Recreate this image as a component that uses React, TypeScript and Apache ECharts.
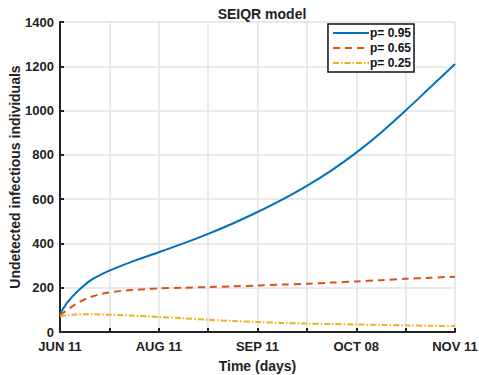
import React, { useEffect, useRef } from "react";
import * as echarts from "echarts";

const days = [0, 1, 2, 3, 5, 7, 9, 11, 13, 16, 20, 25, 30, 35, 40, 50, 60, 70, 80, 90, 100, 110, 120, 130, 140, 150, 160];
const p95 = [80, 100, 118, 134, 160, 183, 203, 222, 238, 256, 277, 300, 321, 341, 360, 400, 443, 490, 542, 598, 660, 730, 810, 900, 1000, 1105, 1210];
const p65 = [75, 84, 92, 100, 116, 130, 142, 152, 160, 170, 179, 186, 190, 194, 197, 200, 203, 206, 210, 214, 218, 223, 228, 234, 240, 245, 250];
const p25 = [70, 72, 74, 76, 78, 79, 80, 80, 80, 79, 78, 76, 73, 71, 68, 62, 55, 50, 45, 41, 38, 36, 34, 32, 30, 28, 27];
const tickLabels: Record<number, string> = { 0: "JUN 11", 40: "AUG 11", 80: "SEP 11", 120: "OCT 08", 160: "NOV 11" };
const seriesNames = ["p= 0.95", "p= 0.65", "p= 0.25"];

const FONT = "Liberation Sans, Arial, sans-serif";

export default function App() {
  const ref = useRef<HTMLDivElement>(null);
  useEffect(() => {
    if (!ref.current) return;
    const chart = echarts.init(ref.current, null, { renderer: "svg" });
    const mk = (vals: number[]) => days.map((d, i) => [d, vals[i]]);
    chart.setOption({
      animation: false,
      backgroundColor: "#fff",
      title: {
        text: "SEIQR model",
        left: 257,
        textAlign: "center",
        top: 2,
        textStyle: { fontFamily: FONT, fontWeight: "bold", fontSize: 14, color: "#222" },
      },
      legend: {
        right: 65,
        top: 24,
        orient: "vertical",
        backgroundColor: "#fff",
        borderColor: "#111",
        borderWidth: 1.5,
        borderRadius: 0,
        padding: [3, 3, 3, 4],
        itemGap: 3,
        itemWidth: 36,
        itemHeight: 12,
        itemStyle: { opacity: 0 },
        textStyle: { fontFamily: FONT, fontWeight: "bold", fontSize: 12, color: "#111", padding: [0, 0, 0, -4] },
        data: seriesNames,
      },
      grid: { left: 60, right: 24, top: 22, bottom: 43, outerBoundsMode: "none", containLabel: false },
      xAxis: {
        type: "value",
        min: 0,
        max: 160,
        interval: 20,
        name: "Time (days)",
        nameLocation: "middle",
        nameGap: 27,
        nameMoveOverlap: false,
        nameTextStyle: { fontFamily: FONT, fontWeight: "bold", fontSize: 14, color: "#222" },
        axisLine: { show: true, lineStyle: { color: "#222", width: 2 } },
        axisTick: { show: true, inside: true, length: 4, lineStyle: { color: "#222", width: 2 } },
        axisLabel: {
          fontFamily: FONT,
          fontWeight: "bold",
          fontSize: 13,
          color: "#222",
          margin: 8,
          formatter: (v: number) => tickLabels[v] ?? "",
        },
        splitLine: { show: true, lineStyle: { color: "#e3e3e3", width: 1.5 } },
      },
      yAxis: {
        type: "value",
        min: 0,
        max: 1400,
        interval: 200,
        name: "Undetected infectious individuals",
        nameLocation: "middle",
        nameGap: 38,
        nameMoveOverlap: false,
        nameTextStyle: { fontFamily: FONT, fontWeight: "bold", fontSize: 14, color: "#222" },
        axisLine: { show: true, lineStyle: { color: "#222", width: 2 } },
        axisTick: { show: true, inside: true, length: 4, lineStyle: { color: "#222", width: 2 } },
        axisLabel: {
          fontFamily: FONT,
          fontWeight: "bold",
          fontSize: 13,
          color: "#222",
          margin: 6,
          formatter: (v: number) => String(v),
        },
        splitLine: { show: true, lineStyle: { color: "#e3e3e3", width: 1.5 } },
      },
      series: [
        {
          name: seriesNames[0],
          type: "line",
          data: mk(p95),
          smooth: 0.3,
          showSymbol: false,
          symbol: "none",
          color: "#0072BD",
          lineStyle: { width: 2, color: "#0072BD" },
        },
        {
          name: seriesNames[1],
          type: "line",
          data: mk(p65),
          smooth: 0.3,
          showSymbol: false,
          symbol: "none",
          color: "#D95319",
          lineStyle: { width: 2, color: "#D95319", type: [7, 5] },
        },
        {
          name: seriesNames[2],
          type: "line",
          data: mk(p25),
          smooth: 0.3,
          showSymbol: false,
          symbol: "none",
          color: "#EDB120",
          lineStyle: { width: 2, color: "#EDB120", type: [6, 2, 1.5, 2] },
        },
      ],
    });
    return () => chart.dispose();
  }, []);
  return <div ref={ref} style={{ position: "fixed", left: 0, top: 0, width: 479, height: 375 }} />;
}
